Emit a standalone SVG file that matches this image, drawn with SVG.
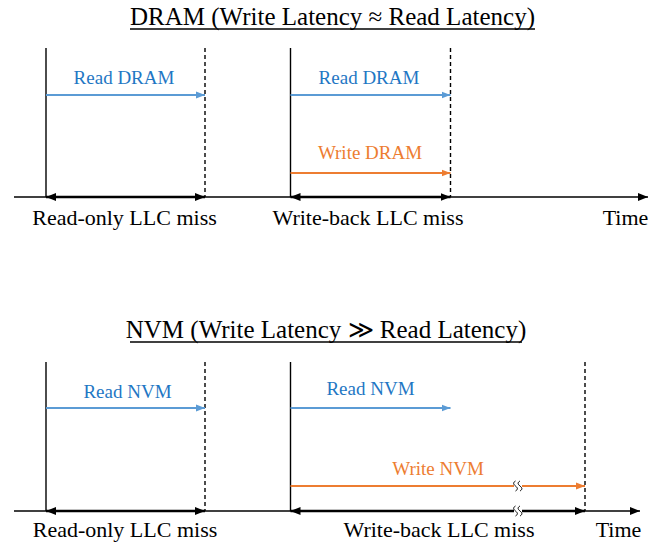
<svg xmlns="http://www.w3.org/2000/svg" width="662" height="542" viewBox="0 0 662 542">
  <style>
    .title { font-size: 25px; fill: #000; text-anchor: middle; }
    .lbl { font-size: 22px; fill: #000; text-anchor: middle; }
    .rd { font-size: 19px; fill: #1F77C4; text-anchor: middle; }
    .wr { font-size: 19px; fill: #ED7D31; text-anchor: middle; }
    .solid { stroke: #000; stroke-width: 1.4; }
    .dash { stroke: #000; stroke-width: 1.4; stroke-dasharray: 4 3; }
    .axis { stroke: #000; stroke-width: 1.3; fill: none; }
    .span { stroke: #000; stroke-width: 2.6; fill: none; }
    .rline { stroke: #5B9BD5; stroke-width: 2; fill: none; }
    .wline { stroke: #ED7D31; stroke-width: 2; fill: none; }
    .brk { stroke: #000; stroke-width: 1; fill: none; }
  </style>
  <defs>
    <marker id="ahBlue" markerUnits="userSpaceOnUse" markerWidth="9" markerHeight="8" refX="9" refY="4" orient="auto">
      <path d="M0,0.5 L9,4 L0,7.5 z" fill="#5B9BD5"/>
    </marker>
    <marker id="ahOrange" markerUnits="userSpaceOnUse" markerWidth="9" markerHeight="8" refX="9" refY="4" orient="auto">
      <path d="M0,0.5 L9,4 L0,7.5 z" fill="#ED7D31"/>
    </marker>
    <marker id="ahBlack" markerUnits="userSpaceOnUse" markerWidth="10" markerHeight="9" refX="10" refY="4.5" orient="auto-start-reverse">
      <path d="M0,0.5 L10,4.5 L0,8.5 z" fill="#000"/>
    </marker>
    <marker id="ahAxis" markerUnits="userSpaceOnUse" markerWidth="10" markerHeight="9" refX="10" refY="4.5" orient="auto">
      <path d="M0,0.5 L10,4.5 L0,8.5 z" fill="#000"/>
    </marker>
    <!-- break mark: two wavy strokes -->
    <g id="brkMark">
      <path class="brk" d="M-1.5,-5 c-2.5,1.5 -2.5,3 0,5 c2.5,2 2.5,3.5 0,5"/>
      <path class="brk" d="M3,-5 c-2.5,1.5 -2.5,3 0,5 c2.5,2 2.5,3.5 0,5"/>
    </g>
  </defs>

  <g font-family="'Liberation Serif', 'Times New Roman', Times, serif">
  <!-- DRAM timeline -->
  <g id="dram-panel">
    <g id="dram-title">
      <text class="title" x="332.5" y="25">DRAM (Write Latency ≈ Read Latency)</text>
      <line x1="130" y1="29" x2="535" y2="29" stroke="#000" stroke-width="1.3"/>
    </g>
    <g id="dram-marks">
      <line class="solid" x1="46" y1="48" x2="46" y2="197"/>
      <line class="dash" x1="205" y1="48" x2="205" y2="197"/>
      <line class="solid" x1="290.5" y1="48" x2="290.5" y2="197"/>
      <line class="dash" x1="450.5" y1="48" x2="450.5" y2="197"/>
    </g>
    <g id="dram-connectors">
      <line class="axis" x1="14" y1="197" x2="648" y2="197" marker-end="url(#ahAxis)"/>
      <line class="rline" x1="46" y1="95" x2="205" y2="95" marker-end="url(#ahBlue)"/>
      <line class="rline" x1="290.5" y1="95" x2="450.5" y2="95" marker-end="url(#ahBlue)"/>
      <line class="wline" x1="290.5" y1="173" x2="450.5" y2="173" marker-end="url(#ahOrange)"/>
      <line class="span" x1="46" y1="197" x2="205" y2="197" marker-start="url(#ahBlack)" marker-end="url(#ahBlack)"/>
      <line class="span" x1="290.5" y1="197" x2="450.5" y2="197" marker-start="url(#ahBlack)" marker-end="url(#ahBlack)"/>
    </g>
    <g id="dram-labels">
      <text class="rd" x="124" y="84">Read DRAM</text>
      <text class="rd" x="369" y="84">Read DRAM</text>
      <text class="wr" x="370" y="159">Write DRAM</text>
      <text class="lbl" x="124.5" y="225">Read-only LLC miss</text>
      <text class="lbl" x="368" y="225">Write-back LLC miss</text>
      <text class="lbl" x="625.5" y="225">Time</text>
    </g>
  </g>

  <!-- NVM timeline -->
  <g id="nvm-panel">
    <g id="nvm-title">
      <text class="title" x="326" y="338">NVM (Write Latency ≫ Read Latency)</text>
      <line x1="130" y1="342" x2="522" y2="342" stroke="#000" stroke-width="1.3"/>
    </g>
    <g id="nvm-marks">
      <line class="solid" x1="46" y1="362" x2="46" y2="511"/>
      <line class="dash" x1="205" y1="362" x2="205" y2="511"/>
      <line class="solid" x1="290.5" y1="362" x2="290.5" y2="511"/>
      <line class="dash" x1="585" y1="362" x2="585" y2="511" stroke="#444"/>
    </g>
    <g id="nvm-connectors">
      <line class="axis" x1="14" y1="511" x2="640" y2="511" marker-end="url(#ahAxis)"/>
      <line class="rline" x1="46" y1="408" x2="205" y2="408" marker-end="url(#ahBlue)"/>
      <line class="rline" x1="290.5" y1="408" x2="450.5" y2="408" marker-end="url(#ahBlue)"/>
      <!-- long write, drawn with a break mark -->
      <line class="wline" x1="290.5" y1="486" x2="514" y2="486"/>
      <line class="wline" x1="522" y1="486" x2="585" y2="486" marker-end="url(#ahOrange)"/>
      <use href="#brkMark" x="517" y="486"/>
      <line class="span" x1="290.5" y1="511" x2="514" y2="511" marker-start="url(#ahBlack)"/>
      <rect x="514" y="508" width="8" height="6" fill="#fff"/>
      <line class="span" x1="522" y1="511" x2="585" y2="511" marker-end="url(#ahBlack)"/>
      <line class="span" x1="46" y1="511" x2="205" y2="511" marker-start="url(#ahBlack)" marker-end="url(#ahBlack)"/>
      <use href="#brkMark" x="517" y="511"/>
    </g>
    <g id="nvm-labels">
      <text class="rd" x="127.5" y="398">Read NVM</text>
      <text class="rd" x="370.5" y="395">Read NVM</text>
      <text class="wr" x="438" y="475">Write NVM</text>
      <text class="lbl" x="125" y="537">Read-only LLC miss</text>
      <text class="lbl" x="439" y="537">Write-back LLC miss</text>
      <text class="lbl" x="618.5" y="537">Time</text>
    </g>
  </g>
  </g>
</svg>
